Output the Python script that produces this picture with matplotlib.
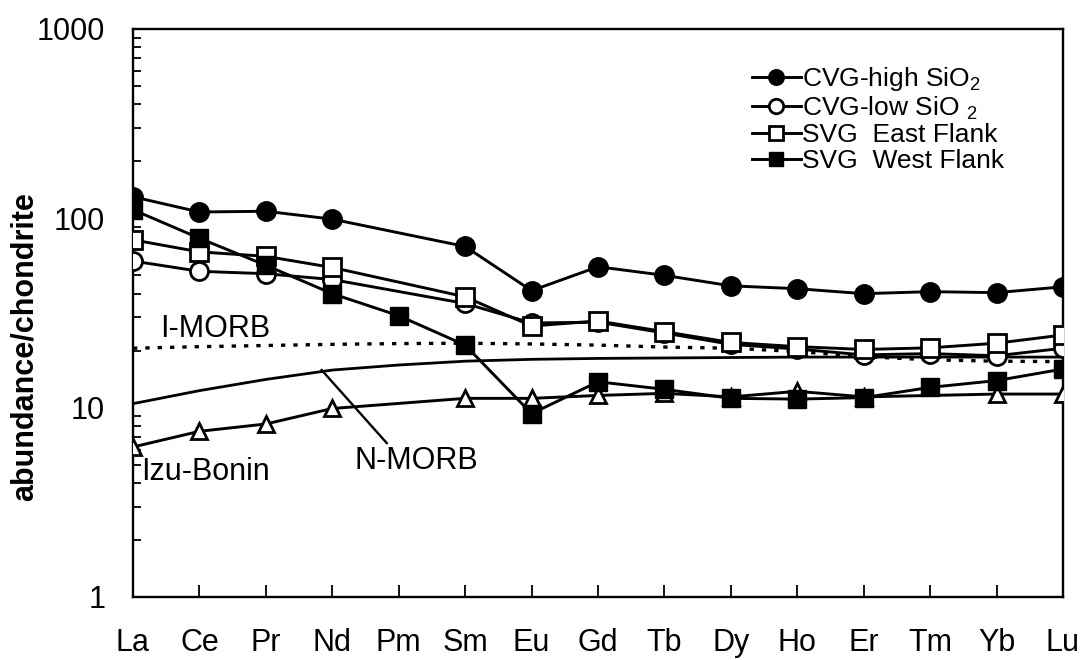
import numpy as np
import matplotlib
matplotlib.use("Agg")
import matplotlib.pyplot as plt
from matplotlib.ticker import LogLocator, NullFormatter, FixedLocator

plt.rcParams['font.family'] = ['Liberation Sans', 'DejaVu Sans']
plt.rcParams['mathtext.fontset'] = 'custom'
plt.rcParams['mathtext.rm'] = 'Liberation Sans'
plt.rcParams['mathtext.it'] = 'Liberation Sans'

# REE, chondrite normalised (nan = not measured)
elements = ["La", "Ce", "Pr", "Nd", "Pm", "Sm", "Eu", "Gd", "Tb", "Dy", "Ho", "Er", "Tm", "Yb", "Lu"]
nan = np.nan

cvg_high = [130, 108, 109, 99, nan, 71, 41.5, 55.5, 50, 44, 42.5, 40, 41, 40.5, 43.5]
cvg_low = [59.5, 52.5, 51, 47.5, nan, 35.5, 28, 28.3, 24.8, 21.6, 20.4, 19.0, 19.3, 18.8, 20.6]
svg_east = [77, 66.5, 63, 55, nan, 38.5, 27, 28.7, 25.2, 22.1, 21.0, 20.3, 20.7, 21.9, 24.2]
svg_west = [111, 78.5, 56.5, 40, 30.6, 21.4, 9.3, 13.7, 12.5, 11.2, 11.1, 11.3, 12.8, 13.9, 16.0]
izu_bonin = [6.2, 7.5, 8.2, 9.9, nan, 11.2, 11.2, 11.6, 11.9, 11.4, 12.2, 11.4, nan, 11.8, 11.8]
n_morb = [10.5, 12.3, 14.1, 15.8, 16.8, 17.6, 18.0, 18.2, 18.3, 18.4, 18.5, 18.5, 18.5, 18.5, 18.5]
i_morb = [20.6, 21.0, 21.3, 21.6, 21.8, 21.9, 21.7, 21.4, 20.9, 20.6, 19.8, 18.6, 17.9, 17.6, 17.5]

legend_labels = ["CVG-high SiO$_2$", "CVG-low SiO $_2$", "SVG  East Flank", "SVG  West Flank"]

fig = plt.figure(figsize=(10.83, 6.6), dpi=100)
ax = fig.add_axes([133 / 1083, 63 / 660, 930 / 1083, 568 / 660])

x = np.arange(len(elements))


def draw(vals, lw=2.1, **kw):
    v = np.array(vals, dtype=float)
    ok = ~np.isnan(v)
    return ax.plot(x[ok], v[ok], color="black", lw=lw, **kw)[0]


# reference curves
draw(n_morb, lw=2.0, zorder=2)
draw(i_morb, ls=(0, (1.3, 2.4)), lw=2.4, zorder=2)
draw(izu_bonin, marker="^", ms=11, mfc="white", mec="black", mew=2.0, zorder=3)

# samples
h1 = draw(cvg_high, marker="o", ms=14, mfc="black", mec="black", zorder=6)
h2 = draw(cvg_low, marker="o", ms=13, mfc="white", mec="black", mew=2.0, zorder=4)
h3 = draw(svg_east, marker="s", ms=12.5, mfc="white", mec="black", mew=2.0, zorder=5)
h4 = draw(svg_west, marker="s", ms=12.5, mfc="black", mec="black", zorder=5)

ax.set_yscale("log")
ax.set_ylim(1, 1000)
ax.set_xlim(0, len(elements) - 1)

ax.xaxis.set_major_locator(FixedLocator(x))
ax.set_xticklabels(elements)
ax.yaxis.set_major_locator(FixedLocator([1, 10, 100, 1000]))
ax.set_yticklabels(["1", "10", "100", "1000"])
ax.yaxis.set_minor_locator(LogLocator(base=10, subs=np.arange(2, 10)))
ax.yaxis.set_minor_formatter(NullFormatter())

ax.tick_params(axis="x", direction="in", length=9, width=1.3, pad=22, labelsize=22, top=False)
ax.tick_params(axis="y", which="major", direction="in", length=0, pad=20, labelsize=22, right=False)
ax.tick_params(axis="y", which="minor", direction="in", length=6, width=1.3, right=False)
for s in ax.spines.values():
    s.set_linewidth(1.7)

fig.text(25 / 1083, 1 - 347 / 660, "abundance/chondrite", rotation=90,
         ha="center", va="center", fontsize=22, fontweight="bold")

# curve labels
ax.text(0.41, 26.0, "I-MORB", fontsize=22, ha="left", va="center")
ax.text(0.12, 4.6, "Izu-Bonin", fontsize=22, ha="left", va="center")
ax.text(3.34, 5.2, "N-MORB", fontsize=22, ha="left", va="center")
ax.plot([2.84, 3.82], [15.8, 6.5], color="black", lw=1.7)

leg = ax.legend([h1, h2, h3, h4], legend_labels, loc="upper left",
                bbox_to_anchor=(752 / 1083, 1 - 65 / 660), bbox_transform=fig.transFigure,
                frameon=False, fontsize=19, markerscale=0.8, handlelength=1.85,
                handletextpad=0.05, labelspacing=0.06, borderpad=0, borderaxespad=0)

fig.savefig("out.png", dpi=100)
